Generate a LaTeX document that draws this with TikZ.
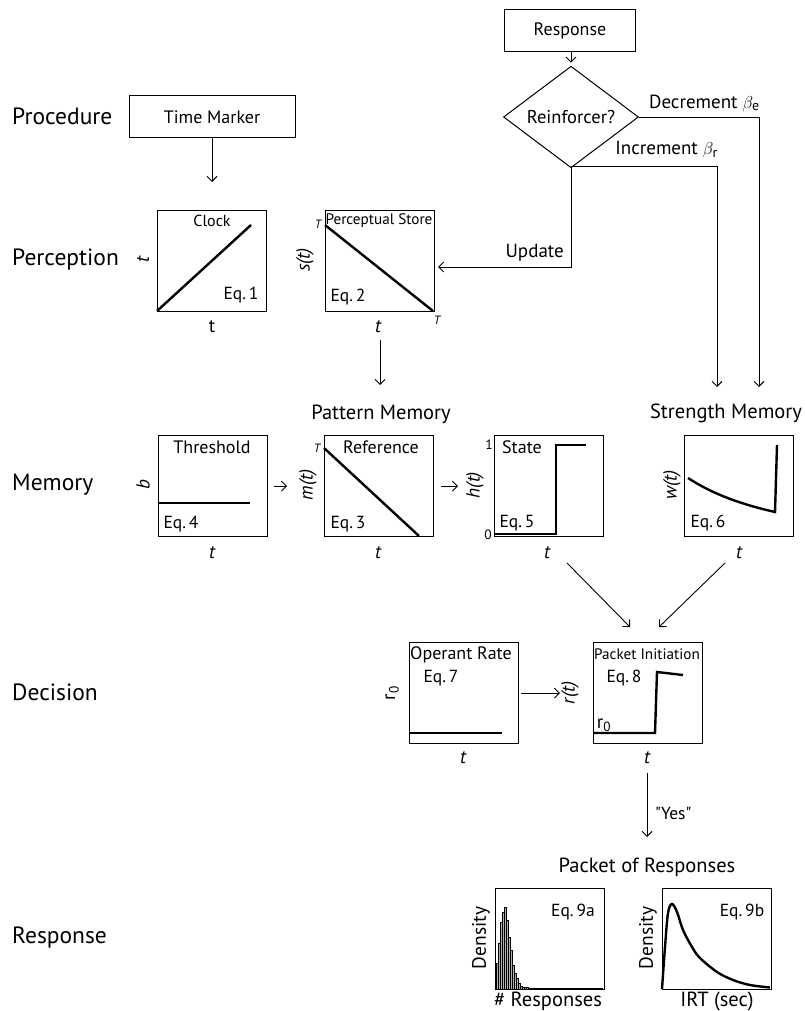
\documentclass[tikz,border=0pt]{standalone}
\usepackage{fontspec}
\setmainfont{PT Sans}
\usetikzlibrary{arrows.meta,shapes.geometric,calc}
\begin{document}
\begin{tikzpicture}[x=1pt,y=-1pt,
 rowlab/.style={anchor=west,inner sep=0pt,font=\fontsize{23.5}{27}\selectfont},
 tbox/.style={draw,line width=1pt,minimum height=42pt,inner sep=0pt,font=\fontsize{18}{21}\selectfont},
 pbox/.style={draw,line width=1.1pt,minimum width=109pt,minimum height=101pt,inner sep=0pt,anchor=north west},
 lab/.style={inner sep=0pt,font=\fontsize{18}{21}\selectfont},
 tinylab/.style={inner sep=0pt,font=\fontsize{15.2}{18}\selectfont},
 eqlab/.style={inner sep=0pt,font=\fontsize{17.5}{21}\selectfont},
 conlab/.style={inner sep=0pt,font=\fontsize{19}{23}\selectfont},
 biglab/.style={inner sep=0pt,font=\fontsize{20.5}{24}\selectfont},
 denlab/.style={inner sep=0pt,font=\fontsize{19.5}{23}\selectfont},
 axl/.style={inner sep=0pt,font=\fontsize{19}{23}\selectfont\itshape},
 yax/.style={axl,rotate=90},
 tl/.style={inner sep=0pt,font=\fontsize{12}{14}\selectfont\itshape},
 curve/.style={line width=2.4pt},
 arr/.style={line width=0.9pt,-{Straight Barb[length=5pt,width=10pt]}},
 barst/.style={draw=black,line width=0.35pt,fill=black!30},
]
\useasboundingbox (0,0) rectangle (805,1011);

% row labels
\node[rowlab] (lproc) at (12,116) {Procedure};
\node[rowlab] (lperc) at (12,260) {Perception};
\node[rowlab] (lmem) at (12,485) {Memory};
\node[rowlab] (ldec) at (12,692) {Decision};
\node[rowlab] (lresp) at (12,938) {Response};

% top boxes
\node[tbox,minimum width=166pt] (tm) at (212,117) {Time Marker};
\node[tbox,minimum width=131pt] (resp) at (570,31) {Response};
\node[draw,diamond,line width=1pt,minimum width=135pt,minimum height=63pt,inner sep=0pt,font=\fontsize{18.5}{22}\selectfont] (dia) at (571,117) {Reinforcer?};

% plot boxes
\node[pbox] (clock) at (157,210) {};
\node[pbox] (pst) at (325,210) {};
\node[pbox] (thr) at (158,435) {};
\node[pbox] (ref) at (324,435) {};
\node[pbox] (sta) at (494,435) {};
\node[pbox] (str) at (684,435) {};
\node[pbox] (opr) at (409,642) {};
\node[pbox] (pin) at (593,642) {};
\node[pbox] (his) at (495,888) {};
\node[pbox] (irt) at (662,888) {};

% curves
\begin{scope}[shift={(clock.north west)}]
 \draw[curve] (0,101) -- (94,15);
\end{scope}
\begin{scope}[shift={(pst.north west)}]
 \draw[curve] (0,15) -- (108,101);
\end{scope}
\begin{scope}[shift={(thr.north west)}]
 \draw[curve] (0,68) -- (92,68);
\end{scope}
\begin{scope}[shift={(ref.north west)}]
 \draw[curve] (0,13) -- (95,101);
\end{scope}
\begin{scope}[shift={(sta.north west)}]
 \draw[curve,line join=miter] (0,99) -- (62,99) -- (62,10) -- (92,10);
\end{scope}
\begin{scope}[shift={(str.north west)}]
 \draw[curve,line join=miter] (4,43) .. controls (30,60) and (60,70) .. (91,77) -- (93,10);
\end{scope}
\begin{scope}[shift={(opr.north west)}]
 \draw[curve] (0,91) -- (93,91);
\end{scope}
\begin{scope}[shift={(pin.north west)}]
 \draw[curve,line join=miter] (0,91) -- (62,91) -- (64,30) -- (90,33);
\end{scope}
\begin{scope}[shift={(his.north west)}]
 \foreach \h [count=\i] in {26,46,67,77,82,69,52,39,24,16,11,6,3,2,1.5,1.5,1.2,1.2}
  \draw[barst] ({2*\i-0.5},101) rectangle ({2*\i+1.5},{101-\h});
 \foreach \i in {19,...,53}
  \draw[barst] ({2*\i-0.5},101) rectangle ({2*\i+1.5},100);
\end{scope}
\begin{scope}[shift={(irt.north west)}]
 \draw[curve] plot[smooth,tension=0.55] coordinates {(0,101) (3,59) (6,25) (10,16) (15,24) (21,42) (30,59) (38,70) (55,84) (71,92) (88,97) (108,99.5)};
\end{scope}

% labels in perception row
\node[yax] (clocky) at (143,260) {t};
\node[inner sep=0pt,font=\fontsize{16}{19}\selectfont] (clockt) at (212,221) {Clock};
\node[eqlab] (eq1) at (241,295) {Eq.\,1};
\node[inner sep=0pt,font=\fontsize{19}{23}\selectfont] (clockx) at (212,327) {t};
\node[tinylab] (pstt) at (379,221) {Perceptual Store};
\node[tl] (pstT1) at (318,224) {T};
\node[tl] (pstT2) at (437,320) {T};
\node[eqlab] (eq2) at (348,297) {Eq.\,2};
\node[yax] (psty) at (305,260) {s(t)};
\node[axl] (pstx) at (378,327) {t};

% memory row
\node[lab] (thrt) at (212,447) {Threshold};
\node[yax] (thry) at (143,485) {b};
\node[eqlab] (eq4) at (181,524) {Eq.\,4};
\node[axl] (thrx) at (212,553) {t};
\node[biglab] (patm) at (381,414) {Pattern Memory};
\node[lab] (reft) at (381,447) {Reference};
\node[tl] (refT) at (317,448) {T};
\node[yax] (refy) at (308,485) {m(t)};
\node[eqlab] (eq3) at (348,524) {Eq.\,3};
\node[axl] (refx) at (378,553) {t};
\node[lab] (stat) at (522,447) {State};
\node[inner sep=0pt,font=\fontsize{13.5}{16}\selectfont] (sta1) at (489,445) {1};
\node[inner sep=0pt,font=\fontsize{13.5}{16}\selectfont] (sta0) at (488,535) {0};
\node[yax] (stay) at (475,485) {h(t)};
\node[eqlab] (eq5) at (517,523) {Eq.\,5};
\node[axl] (stax) at (547,553) {t};
\node[biglab] (strm) at (726,413) {Strength Memory};
\node[yax] (stry) at (672,485) {w(t)};
\node[eqlab] (eq6) at (708,523) {Eq.\,6};
\node[axl] (strx) at (739,553) {t};

% decision row
\node[lab,anchor=west] (oprt) at (410,655) {Operant Rate};
\node[eqlab] (eq7) at (441,678) {Eq.\,7};
\node[conlab,rotate=90] (opry) at (392,693) {r\textsubscript{0}};
\node[axl] (oprx) at (463,758) {t};
\node[tinylab] (pint) at (647,654) {Packet Initiation};
\node[eqlab] (eq8) at (624,678) {Eq.\,8};
\node[conlab] (pinr) at (604,725) {r\textsubscript{0}};
\node[yax] (piny) at (570,693) {r(t)};
\node[axl] (pinx) at (647,758) {t};

% response row
\node[eqlab,anchor=west] (yes) at (655,813) {\textquotedbl Yes\textquotedbl};
\node[biglab] (pkt) at (647,867) {Packet of Responses};
\node[eqlab] (eq9a) at (573,912) {Eq.\,9a};
\node[denlab,rotate=90] (hisy) at (481,938) {Density};
\node[biglab] (hisx) at (548,1001) {\# Responses};
\node[eqlab] (eq9b) at (742,912) {Eq.\,9b};
\node[denlab,rotate=90] (irty) at (648,938) {Density};
\node[biglab] (irtx) at (717,1001) {IRT (sec)};

% connector labels
\node[conlab,anchor=east] (decl) at (760,103) {Decrement $\beta_{\mbox{\fontsize{14}{16}\selectfont e}}$};
\node[conlab,anchor=east] (incl) at (718,150) {Increment $\beta_{\mbox{\fontsize{14}{16}\selectfont r}}$};
\node[conlab,anchor=east] (updl) at (564,253) {Update};

% connectors
\coordinate (updend) at (438,267);
\coordinate (incs) at (571,166);
\coordinate (ince) at (717,387);
\coordinate (dece) at (759,387);
\coordinate (d1s) at (567,563);
\coordinate (d1e) at (630,627);
\coordinate (d2s) at (725,563);
\coordinate (d2e) at (659,627);
\coordinate (ys) at (647,773);
\coordinate (ye) at (647,837);

\draw[arr,shorten >=28pt] (tm.south) -- (tm.south |- clock.north);
\draw[arr,shorten >=3pt] (resp.south -| dia.north) -- (dia.north);
\draw[arr] (dia.south) |- (updend);
\draw[arr] (incs) -| (ince);
\draw[arr] (dia.east) -| (dece);
\draw[arr,shorten <=28pt,shorten >=50pt] (pst.south) -- (pst.south |- ref.north);
\draw[arr,shorten <=6pt,shorten >=37pt] (thr.east) -- (thr.east -| ref.west);
\draw[arr,shorten <=7pt,shorten >=36pt] (ref.east) -- (ref.east -| sta.west);
\draw[arr] (d1s) -- (d1e);
\draw[arr] (d2s) -- (d2e);
\draw[arr,shorten <=2pt,shorten >=33pt] (opr.east) -- (opr.east -| pin.west);
\draw[arr] (ys) -- (ye);
\end{tikzpicture}
\end{document}
